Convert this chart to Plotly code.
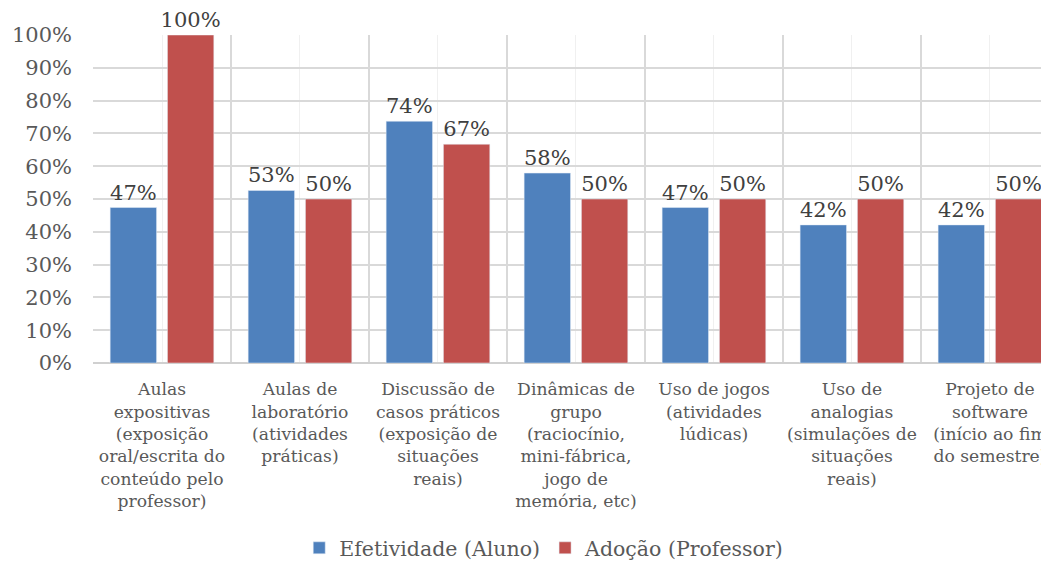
import plotly.graph_objects as go

categories = [
    'Aulas<br>expositivas<br>(exposição<br>oral/escrita do<br>conteúdo pelo<br>professor)',
    'Aulas de<br>laboratório<br>(atividades<br>práticas)',
    'Discussão de<br>casos práticos<br>(exposição de<br>situações<br>reais)',
    'Dinâmicas de<br>grupo<br>(raciocínio,<br>mini-fábrica,<br>jogo de<br>memória, etc)',
    'Uso de jogos<br>(atividades<br>lúdicas)',
    'Uso de<br>analogias<br>(simulações de<br>situações<br>reais)',
    'Projeto de<br>software<br>(início ao fim<br>do semestre)',
]
efetividade_aluno = [47.4, 52.6, 73.7, 57.9, 47.4, 42.1, 42.1]
adocao_professor = [100, 50, 66.7, 50, 50, 50, 50]
y_ticks = [0, 10, 20, 30, 40, 50, 60, 70, 80, 90, 100]
y_ticktext = [f'{v}%' for v in y_ticks]

FONT = 'DejaVu Serif'
x_pos = list(range(len(categories)))

fig = go.Figure()
for name, vals, color in [('Efetividade (Aluno)', efetividade_aluno, '#4f81bd'),
                          ('Adoção (Professor)', adocao_professor, '#c0504d')]:
    fig.add_trace(go.Bar(
        name=name, x=x_pos, y=vals,
        marker_color=color,
        texttemplate='%{y:.0f}%', textposition='outside',
        textfont=dict(family=FONT, size=21, color='#404040'),
        constraintext='none', cliponaxis=False,
    ))

# page body has an 8px margin, so the figure is sized to fit without scrollbars
fig.update_layout(
    width=1041, height=560,
    margin=dict(l=85, r=0, t=27, b=205, autoexpand=False),
    barmode='group', bargap=0.17, bargroupgap=0.19,
    paper_bgcolor='white', plot_bgcolor='white',
    font=dict(family=FONT, color='#595959'),
    showlegend=True,
    legend=dict(
        orientation='h', x=0.472, xanchor='center',
        yref='container', y=0.0, yanchor='bottom',
        font=dict(family=FONT, size=20.5, color='#595959'),
        traceorder='normal',
    ),
    xaxis=dict(
        range=[-0.5, 6.428],
        tickvals=x_pos, ticktext=categories,
        tickfont=dict(family=FONT, size=17.2, color='#595959'),
        showgrid=True, gridcolor='#f0f0f0', gridwidth=1,
        minor=dict(tick0=0.5, dtick=1, showgrid=True, gridcolor='#d9d9d9', gridwidth=1.5),
        ticks='', ticklabelstandoff=14, ticklabeloverflow='allow',
        zeroline=False, showline=False, automargin=False,
    ),
    yaxis=dict(
        range=[0, 100], tickvals=y_ticks, ticktext=y_ticktext,
        tickfont=dict(family=FONT, size=21, color='#595959'),
        showgrid=True, gridcolor='#d9d9d9', gridwidth=1.5,
        zeroline=True, zerolinecolor='#d0d0d0', zerolinewidth=2,
        ticks='', ticklabelstandoff=20, automargin=False,
    ),
)

fig.write_html('out.html')
